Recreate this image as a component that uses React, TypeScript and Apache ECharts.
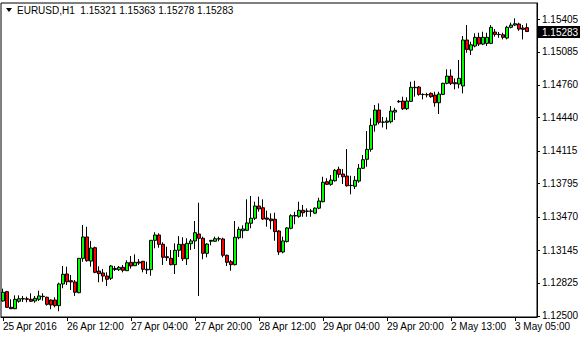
import React, { useEffect, useRef } from "react";
import * as echarts from "echarts";

const symbolTitle = "EURUSD,H1  1.15321 1.15363 1.15278 1.15283";

const opens = [
  1.12647, 1.12738, 1.12585, 1.12571, 1.12644, 1.12666, 1.12668, 1.12663, 1.12647, 1.12663,
  1.12693, 1.12683, 1.12656, 1.12656, 1.12601, 1.12813, 1.12911, 1.12845, 1.12833, 1.12728,
  1.13064, 1.13273, 1.13037, 1.13168, 1.1294, 1.12921, 1.12891, 1.12869, 1.12955, 1.12953,
  1.12976, 1.12943, 1.13025, 1.12992, 1.13028, 1.13035, 1.12957, 1.12953, 1.1324, 1.13292,
  1.13201, 1.1308, 1.13064, 1.13002, 1.13143, 1.13201, 1.1306, 1.13207, 1.13234, 1.13302,
  1.1326, 1.13113, 1.13231, 1.13231, 1.13253, 1.13253, 1.13094, 1.13031, 1.13002, 1.13266,
  1.13334, 1.13338, 1.13407, 1.13456, 1.13576, 1.13559, 1.13459, 1.13449, 1.13446, 1.13331,
  1.13126, 1.13229, 1.13358, 1.13478, 1.13475, 1.13534, 1.13527, 1.13524, 1.13506, 1.13555,
  1.13618, 1.13814, 1.13788, 1.13823, 1.13935, 1.13889, 1.13869, 1.13778, 1.13769, 1.1382,
  1.13945, 1.14033, 1.1413, 1.14368, 1.14515, 1.14395, 1.14395, 1.14401, 1.14495, 1.14596,
  1.14603, 1.14528, 1.146, 1.14733, 1.1474, 1.14668, 1.14664, 1.14678, 1.14661, 1.14586,
  1.14668, 1.14776, 1.14847, 1.14782, 1.14769, 1.1475, 1.152, 1.15101, 1.15141, 1.15226,
  1.1516, 1.15167, 1.15167, 1.15278, 1.15255, 1.15251, 1.15219, 1.15324, 1.15346, 1.15356,
  1.15317, 1.15321,
];
const highs = [
  1.12767, 1.12745, 1.12663, 1.12702, 1.12702, 1.12696, 1.12689, 1.12722, 1.12696, 1.12747,
  1.12722, 1.12689, 1.12663, 1.12683, 1.12826, 1.12989, 1.12982, 1.12901, 1.12852, 1.13066,
  1.1339, 1.13373, 1.13234, 1.13178, 1.12985, 1.1296, 1.12927, 1.12999, 1.12989, 1.12989,
  1.12999, 1.13045, 1.13087, 1.13103, 1.13057, 1.13038, 1.13031, 1.13241, 1.13319, 1.13309,
  1.13221, 1.13178, 1.13146, 1.13211, 1.13282, 1.1327, 1.1326, 1.13253, 1.13429, 1.13608,
  1.13276, 1.13211, 1.13243, 1.13276, 1.13276, 1.13266, 1.131, 1.13048, 1.13429, 1.13373,
  1.13387, 1.13641, 1.13674, 1.13618, 1.13667, 1.13641, 1.1353, 1.13504, 1.1351, 1.13341,
  1.13276, 1.1337, 1.13495, 1.1352, 1.13618, 1.13586, 1.13553, 1.13547, 1.13562, 1.13657,
  1.13862, 1.13847, 1.13879, 1.13938, 1.1396, 1.13938, 1.14133, 1.13872, 1.13869, 1.13987,
  1.14075, 1.14309, 1.14434, 1.14564, 1.1458, 1.14447, 1.14443, 1.14554, 1.14537, 1.14613,
  1.14645, 1.14639, 1.14792, 1.14801, 1.1475, 1.14678, 1.14684, 1.14688, 1.14694, 1.14694,
  1.14782, 1.14913, 1.14913, 1.14825, 1.15004, 1.15239, 1.15346, 1.15183, 1.15265, 1.15271,
  1.15281, 1.15271, 1.15346, 1.15307, 1.15278, 1.15271, 1.15339, 1.15369, 1.15412, 1.15369,
  1.15346, 1.15363,
];
const lows = [
  1.1264, 1.12578, 1.12568, 1.12568, 1.1263, 1.12637, 1.12634, 1.12637, 1.1263, 1.12647,
  1.1265, 1.12601, 1.12566, 1.12585, 1.12546, 1.12771, 1.12803, 1.12754, 1.12696, 1.12722,
  1.13031, 1.13031, 1.12982, 1.12918, 1.1283, 1.12835, 1.12793, 1.12852, 1.1294, 1.1294,
  1.12927, 1.1294, 1.12963, 1.12989, 1.12999, 1.12927, 1.12911, 1.12894, 1.13162, 1.13168,
  1.12999, 1.13038, 1.12995, 1.12911, 1.13077, 1.13038, 1.12999, 1.13146, 1.13155, 1.12696,
  1.13055, 1.13074, 1.13191, 1.13227, 1.13231, 1.13074, 1.12989, 1.12943, 1.12995, 1.1325,
  1.1326, 1.13331, 1.13358, 1.13439, 1.1352, 1.13439, 1.13373, 1.13348, 1.13236, 1.13097,
  1.13113, 1.13219, 1.13348, 1.13397, 1.13461, 1.13471, 1.13471, 1.13471, 1.135, 1.13545,
  1.13612, 1.13781, 1.13774, 1.13814, 1.13853, 1.13791, 1.13765, 1.1369, 1.13742, 1.13804,
  1.13938, 1.1396, 1.14107, 1.14303, 1.14375, 1.14344, 1.14326, 1.14385, 1.14417, 1.14586,
  1.14515, 1.14515, 1.14593, 1.14645, 1.14655, 1.14619, 1.14639, 1.14635, 1.14547, 1.14476,
  1.14661, 1.14766, 1.14759, 1.14717, 1.14727, 1.14678, 1.15075, 1.15053, 1.15128, 1.15141,
  1.1515, 1.15141, 1.1516, 1.15232, 1.15222, 1.15206, 1.15206, 1.15314, 1.15336, 1.1529,
  1.15206, 1.15278,
];
const closes = [
  1.12732, 1.12585, 1.12571, 1.12663, 1.12669, 1.1267, 1.12663, 1.12644, 1.12673, 1.12696,
  1.12689, 1.12614, 1.12608, 1.12601, 1.12813, 1.12908, 1.12835, 1.12833, 1.12732, 1.13064,
  1.13273, 1.13041, 1.13165, 1.12927, 1.12914, 1.12891, 1.12859, 1.12989, 1.12965, 1.12976,
  1.12947, 1.13021, 1.12989, 1.13025, 1.13018, 1.12957, 1.1295, 1.1324, 1.13292, 1.13201,
  1.13074, 1.1307, 1.13002, 1.13143, 1.13201, 1.1306, 1.13211, 1.13234, 1.13315, 1.1326,
  1.13113, 1.13204, 1.1324, 1.13256, 1.13256, 1.13094, 1.13025, 1.13002, 1.1327, 1.13348,
  1.13351, 1.1341, 1.13456, 1.13576, 1.13547, 1.13449, 1.13446, 1.13432, 1.13325, 1.13126,
  1.13234, 1.13361, 1.13481, 1.13483, 1.13534, 1.1351, 1.13524, 1.13527, 1.13555, 1.13625,
  1.13808, 1.13788, 1.1383, 1.13925, 1.13886, 1.13862, 1.13774, 1.13776, 1.13827, 1.13945,
  1.14029, 1.1413, 1.14365, 1.14515, 1.14395, 1.14398, 1.14407, 1.14505, 1.14512, 1.146,
  1.14528, 1.14603, 1.14737, 1.14737, 1.14668, 1.14666, 1.14666, 1.14645, 1.14586, 1.14671,
  1.14776, 1.14847, 1.14776, 1.14772, 1.14825, 1.152, 1.15108, 1.15153, 1.15226, 1.1516,
  1.15226, 1.15226, 1.15324, 1.15255, 1.15253, 1.15226, 1.15324, 1.15346, 1.15359, 1.15307,
  1.15304, 1.15283,
];

const timeLabels = [
  "25 Apr 2016", "26 Apr 12:00", "27 Apr 04:00", "27 Apr 20:00", "28 Apr 12:00",
  "29 Apr 04:00", "29 Apr 20:00", "2 May 13:00", "3 May 05:00",
];
const barsPerLabel = 16;
const priceTicks = [
  1.125, 1.12825, 1.13145, 1.1347, 1.13795, 1.14115, 1.1444, 1.1476, 1.15085, 1.15405,
];
const priceMin = 1.1249;
const priceMax = 1.15562;
const lastPrice = closes[closes.length - 1];

const FONT = "Liberation Sans, Arial, sans-serif";

export default function App() {
  const ref = useRef<HTMLDivElement>(null);
  useEffect(() => {
    document.body.style.margin = "0";
    if (!ref.current) return;
    const chart = echarts.init(ref.current, undefined, { renderer: "svg" });
    const cats = opens.map((_, i) => String(i));
    const data = opens.map((o, i) => [o, closes[i], lows[i], highs[i]]);
    chart.setOption({
      animation: false,
      backgroundColor: "#fff",
      textStyle: { fontFamily: FONT },
      grid: {
        left: 1,
        right: 43,
        top: 3,
        bottom: 23,
        show: true,
        borderColor: "#000",
        borderWidth: 1,
        backgroundColor: "#fff",
        outerBoundsMode: "none",
      },
      xAxis: {
        type: "category",
        data: cats,
        max: 133,
        boundaryGap: true,
        axisLine: { show: true, lineStyle: { color: "#000", width: 1 } },
        axisTick: {
          show: true,
          alignWithLabel: true,
          length: 4,
          interval: (idx: number) => idx % barsPerLabel === 0,
          lineStyle: { color: "#000" },
        },
        axisLabel: {
          interval: (idx: number) => idx % barsPerLabel === 0,
          formatter: (_v: string, idx: number) => timeLabels[idx / barsPerLabel] ?? "",
          align: "left",
          margin: 4,
          color: "#000",
          fontSize: 10,
          fontFamily: FONT,
        },
        splitLine: { show: false },
      },
      yAxis: {
        type: "value",
        position: "right",
        min: priceMin,
        max: priceMax,
        scale: true,
        axisLine: { show: true, lineStyle: { color: "#000", width: 1 } },
        axisTick: {
          show: true,
          length: 3,
          customValues: priceTicks,
          lineStyle: { color: "#000" },
        },
        axisLabel: {
          customValues: priceTicks,
          formatter: (v: number) => v.toFixed(5),
          margin: 5,
          color: "#000",
          fontSize: 10,
          fontFamily: FONT,
        },
        splitLine: { show: false },
      },
      series: [
        {
          type: "candlestick",
          data,
          barWidth: 2.6,
          itemStyle: {
            color: "#00ff00",
            color0: "#ff0000",
            borderColor: "#000",
            borderColor0: "#000",
            borderWidth: 1,
          },
        },
      ],
    });
    const py = chart.convertToPixel({ yAxisIndex: 0 }, lastPrice) as number;
    const gridRight = 580 - 43;
    chart.setOption({
      graphic: [
        {
          type: "polygon",
          shape: { points: [[6, 8], [12, 8], [9, 12]] },
          style: { fill: "#000" },
        },
        {
          type: "text",
          left: 17,
          top: 5,
          style: {
            text: symbolTitle,
            fill: "#000",
            fontSize: 10,
            fontFamily: FONT,
          },
        },
        {
          type: "rect",
          shape: { x: gridRight + 1, y: Math.round(py) - 6, width: 42, height: 12 },
          style: { fill: "#000" },
          z: 100,
        },
        {
          type: "text",
          x: gridRight + 5,
          y: Math.round(py),
          z: 101,
          style: {
            text: lastPrice.toFixed(5),
            fill: "#fff",
            fontSize: 10,
            fontFamily: FONT,
            verticalAlign: "middle",
          },
        },
      ],
    });
    return () => chart.dispose();
  }, []);
  return <div ref={ref} style={{ width: 580, height: 340 }} />;
}
